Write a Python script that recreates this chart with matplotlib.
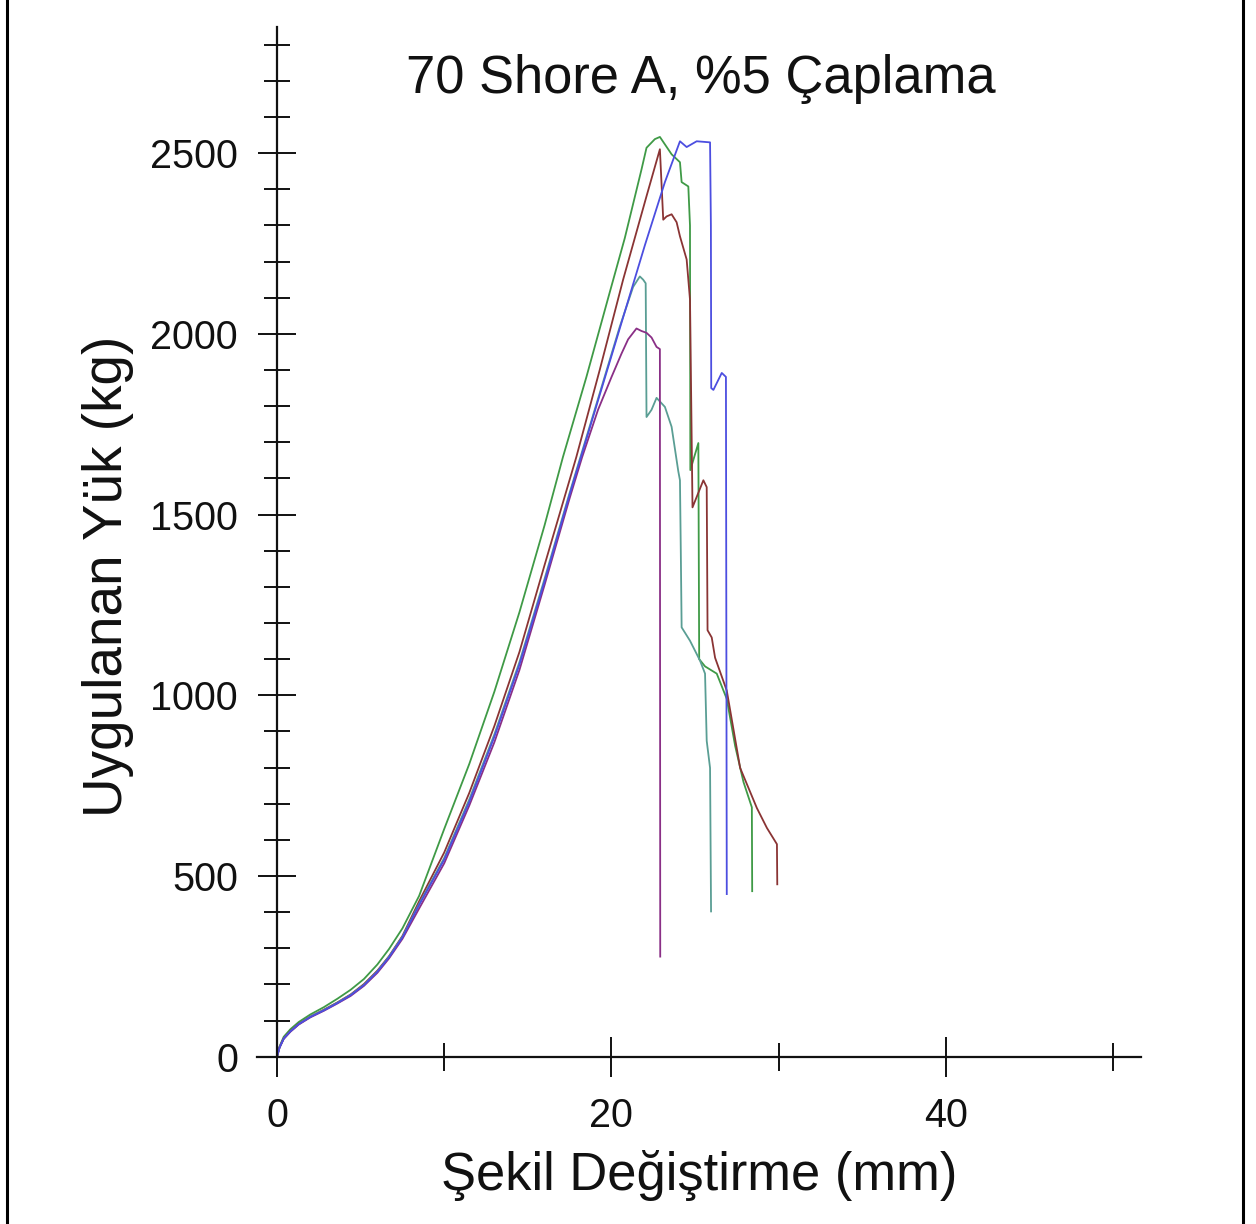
import matplotlib
matplotlib.use("Agg")
import matplotlib.pyplot as plt
from matplotlib.lines import Line2D
from matplotlib.ticker import MultipleLocator, FixedLocator

plt.rcParams['font.family'] = ['Liberation Sans', 'DejaVu Sans']

title = "70 Shore A, %5 Çaplama"
xlabel = "Şekil Değiştirme (mm)"
ylabel = "Uygulanan Yük (kg)"

# yük - deformasyon eğrileri
green_x = [0, 0.15, 0.4, 0.8, 1.3, 2.0, 2.8, 3.6, 4.4, 5.2, 6.0, 6.7, 7.5, 8.5, 10.0,
           11.5, 13.0, 14.5, 16.0, 17.1, 18.5, 19.9, 20.8, 21.3, 21.8, 22.1, 22.6, 22.9,
           23.6, 24.1, 24.2, 24.6, 24.7, 24.72, 25.2, 25.25, 25.6, 26.3, 26.9, 27.4,
           27.9, 28.4, 28.42]
green_y = [0, 28, 55, 76, 96, 117, 137, 160, 185, 215, 255, 298, 355, 445, 630,
           810, 1010, 1230, 1470, 1659, 1880, 2115, 2265, 2360, 2455, 2515, 2539, 2545,
           2497, 2475, 2420, 2408, 2300, 1623, 1698, 1100, 1080, 1060, 990, 860,
           760, 690, 458]

brown_x = [0, 0.15, 0.4, 0.8, 1.3, 2.0, 2.8, 3.6, 4.4, 5.2, 6.0, 6.7, 7.5, 8.5, 10.0,
           11.5, 13.0, 14.5, 16.0, 17.9, 19.3, 20.7, 22.1, 22.9, 23.1, 23.3, 23.6,
           23.9, 24.1, 24.5, 24.7, 24.85, 25.5, 25.7, 25.75, 26.0, 26.2, 26.9, 27.7,
           28.7, 29.3, 29.9, 29.92]
brown_y = [0, 26, 51, 71, 91, 111, 130, 150, 172, 201, 238, 278, 334, 430, 565,
           730, 915, 1120, 1360, 1659, 1900, 2150, 2381, 2511, 2316, 2325, 2331,
           2309, 2270, 2206, 2095, 1520, 1595, 1576, 1180, 1160, 1104, 1013, 799,
           688, 633, 588, 477]

blue_x = [0, 0.15, 0.4, 0.8, 1.3, 2.0, 2.8, 3.6, 4.4, 5.2, 6.0, 6.7, 7.5, 8.5, 10.0,
          11.5, 13.0, 14.5, 16.0, 17.5, 19.0, 20.5, 22.0, 23.2, 24.1, 24.5, 25.1,
          25.9, 25.95, 25.97, 26.1, 26.6, 26.85, 26.9]
blue_y = [0, 25, 50, 70, 90, 110, 128, 148, 170, 198, 235, 275, 330, 420, 545,
          705, 885, 1085, 1315, 1555, 1785, 2015, 2245, 2420, 2533, 2517, 2533,
          2530, 2300, 1850, 1845, 1892, 1881, 450]

teal_x = [0, 0.15, 0.4, 0.8, 1.3, 2.0, 2.8, 3.6, 4.4, 5.2, 6.0, 6.7, 7.5, 8.5, 10.0,
          11.5, 13.0, 14.5, 16.0, 17.5, 19.0, 20.5, 21.3, 21.7, 21.9, 22.05, 22.1,
          22.4, 22.7, 23.2, 23.6, 24.0, 24.1, 24.15, 24.2, 24.7, 25.3, 25.6, 25.7,
          25.9, 25.96]
teal_y = [0, 25, 50, 70, 90, 111, 129, 149, 171, 199, 236, 277, 332, 423, 550,
          712, 892, 1092, 1322, 1560, 1790, 2020, 2130, 2159, 2150, 2140, 1770,
          1790, 1823, 1798, 1743, 1620, 1595, 1400, 1188, 1151, 1096, 1060, 874,
          799, 402]

purple_x = [0, 0.15, 0.4, 0.8, 1.3, 2.0, 2.8, 3.6, 4.4, 5.2, 6.0, 6.7, 7.5, 8.5, 10.0,
            11.5, 13.0, 14.5, 16.0, 17.5, 18.25, 19.2, 20.0, 20.6, 21.0, 21.5, 21.8,
            22.1, 22.4, 22.7, 22.9, 22.92]
purple_y = [0, 25, 49, 69, 89, 109, 127, 147, 168, 196, 232, 272, 326, 410, 535,
            695, 870, 1070, 1305, 1545, 1659, 1790, 1880, 1945, 1985, 2015, 2008,
            2003, 1990, 1964, 1958, 277]

series = [
    (green_x, green_y, '#3f9a46'),
    (brown_x, brown_y, '#8a3434'),
    (teal_x, teal_y, '#5a9e94'),
    (purple_x, purple_y, '#8a2f86'),
    (blue_x, blue_y, '#4c4ee0'),
]

fig = plt.figure(figsize=(12.56, 12.24), dpi=100)
ax = fig.add_axes([0.19392, 0.10716, 0.73217, 0.88578])

for xs, ys, c in series:
    ax.plot(xs, ys, color=c, lw=1.3)

ax.set_xlim(-2, 53)
ax.set_ylim(-100, 2900)

for s in ['top', 'right']:
    ax.spines[s].set_visible(False)
ax.spines['left'].set_position(('data', 0))
ax.spines['bottom'].set_position(('data', 0))
ax.spines['left'].set_bounds(0, 2850)
ax.spines['bottom'].set_bounds(-1.2, 51.7)
for s in ['left', 'bottom']:
    ax.spines[s].set_linewidth(1.6)
    ax.spines[s].set_color('#111111')

ax.xaxis.set_major_locator(FixedLocator([0, 20, 40]))
ax.xaxis.set_minor_locator(FixedLocator([10, 30, 50]))
ax.yaxis.set_major_locator(MultipleLocator(500))
ax.yaxis.set_minor_locator(FixedLocator([v for v in range(100, 2900, 100) if v % 500]))

ax.tick_params(axis='x', which='major', direction='inout', length=29.5, width=1.4,
               pad=14.5, labelsize=28.5, colors='#111111')
ax.tick_params(axis='x', which='minor', direction='inout', length=20, width=1.4,
               colors='#111111')
ax.tick_params(axis='y', which='major', direction='inout', length=28, width=1.4,
               pad=14, labelsize=28.5, colors='#111111')
ax.tick_params(axis='y', which='minor', direction='inout', length=18.7, width=1.4,
               colors='#111111')

fig.text(0.558, 0.924, title, ha='center', va='baseline', fontsize=37.8, color='#111111')
fig.text(0.5565, 0.0278, xlabel, ha='center', va='baseline', fontsize=37.8, color='#111111')
fig.text(0.086, 0.529, ylabel, ha='center', va='center', rotation=90, fontsize=39.5,
         color='#111111')

# kenar çizgileri
fig.add_artist(Line2D([7 / 1256, 7 / 1256], [0, 1], color='black', lw=2.2))
fig.add_artist(Line2D([1243 / 1256, 1243 / 1256], [0, 1], color='black', lw=2.2))

fig.savefig('out.png', dpi=100)
